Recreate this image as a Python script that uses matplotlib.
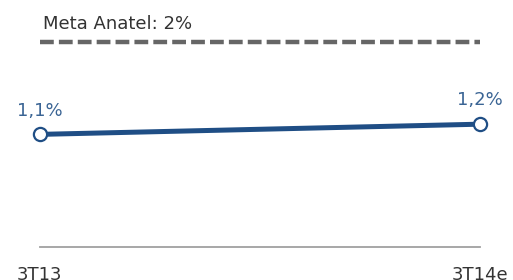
import numpy as np
import matplotlib
matplotlib.use('Agg')
import matplotlib.pyplot as plt

# dados
periodos = ['3T13', '3T14e']
valores = [1.1, 1.2]
rotulos = ['1,1%', '1,2%']
meta = 2.0
meta_rotulo = 'Meta Anatel: 2%'

W, H = 513, 280
fig = plt.figure(figsize=(W / 100, H / 100), dpi=100)

# eixo posicionado em pixels
left_px, right_px = 39.5, 480.0
base_px = 246.7
ax = fig.add_axes([left_px / W, (H - base_px) / H, (right_px - left_px) / W, base_px / H])

x = np.arange(len(valores))
azul = '#1f4e85'

ax.axhline(meta, color='#666666', linewidth=3.2, linestyle=(0, (3.1, 1.15)),
           dash_capstyle='butt', clip_on=False)
ax.annotate(meta_rotulo, xy=(0, meta), xytext=(2.5, 9.7), textcoords='offset points',
            ha='left', va='baseline', fontsize=13, color='#333333')

ax.plot(x, valores, color=azul, linewidth=3.6, marker='o', markersize=9.5,
        markerfacecolor='white', markeredgecolor=azul, markeredgewidth=1.6,
        clip_on=False, zorder=3)
for xi, v, r in zip(x, valores, rotulos):
    ax.annotate(r, xy=(xi, v), xytext=(0, 13.5), textcoords='offset points',
                ha='center', va='baseline', fontsize=13, color='#3a6494')

ax.set_xlim(0, 1)
ax.set_ylim(0, base_px / ((base_px - 42.5) / meta))
ax.set_xticks(x)
ax.set_xticklabels(periodos, fontsize=13, color='#333333')
ax.tick_params(axis='x', length=0, pad=14)
ax.set_yticks([])
for s in ['top', 'left', 'right']:
    ax.spines[s].set_visible(False)
ax.spines['bottom'].set_color('#a0a0a0')
ax.spines['bottom'].set_linewidth(1.3)
ax.patch.set_visible(False)

plt.savefig('out.png', dpi=100)
